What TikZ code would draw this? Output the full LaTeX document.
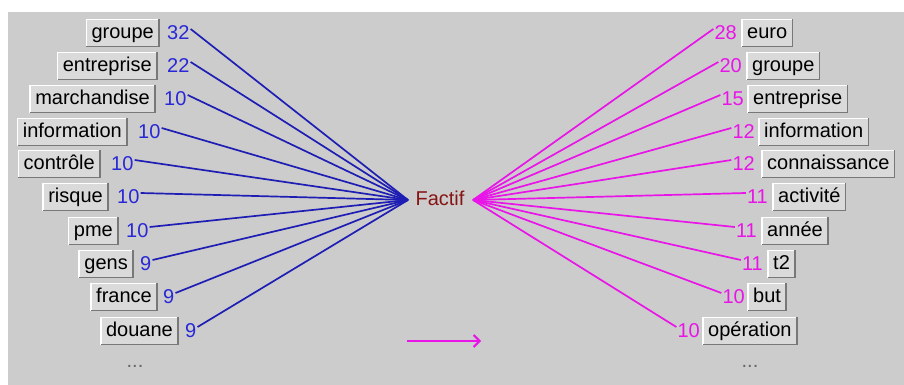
\documentclass[tikz,border=0pt]{standalone}
\usepackage{fontspec}
\setmainfont{Liberation Sans}
\usetikzlibrary{calc,arrows.meta}
\definecolor{bg}{RGB}{204,204,204}
\definecolor{btnface}{RGB}{218,218,218}
\definecolor{btnshadow}{RGB}{120,120,120}
\definecolor{bl}{RGB}{30,30,180}
\definecolor{blnum}{RGB}{40,40,215}
\definecolor{mg}{RGB}{232,20,232}
\definecolor{fred}{RGB}{135,20,20}
\begin{document}
\begin{tikzpicture}[x=1pt,y=-1pt,
  every node/.style={font=\fontsize{20}{24}\selectfont},
  btn/.style={fill=btnface, inner xsep=5pt, inner ysep=4pt, text height=15pt, text depth=4pt, minimum height=27pt},
  bnum/.style={text=blnum, inner sep=0pt},
  mnum/.style={text=mg, inner sep=0pt},
  bline/.style={draw=bl, line width=1.7pt},
  mline/.style={draw=mg, line width=1.7pt},
  dots/.style={text=black!60, inner sep=0pt}]
\useasboundingbox (0,0) rectangle (904,385);
\fill[white] (0,0) rectangle (904,385);
\fill[bg] (8,12) rectangle (904,385);
% convergence points
\coordinate (bt) at (408,200);
\coordinate (mt) at (473,200);
\node[text=fred, inner sep=0pt] (factif) at (440,198) {Factif};
% left side
\foreach \i/\y/\bx/\nx/\t/\n in {
  1/33/159/167/groupe/32,
  2/66/157/167/entreprise/22,
  3/99/155/164/marchandise/10,
  4/132/127/138/information/10,
  5/164/100/111/contrôle/10,
  6/197/108/117/risque/10,
  7/231/118/126/pme/10,
  8/264/133/140/gens/9,
  9/297/157/163/france/9,
  10/331/178/185/douane/9}{
  \node[btn, anchor=east] (l\i) at (\bx,\y) {\t};
  \node[bnum, anchor=west] (ln\i) at (\nx,\y) {\n};
  \draw[white, line width=1.5pt] (l\i.south west) -- (l\i.north west) -- (l\i.north east);
  \draw[btnshadow, line width=1.5pt] (l\i.south west) -- (l\i.south east) -- (l\i.north east);
  \draw[bline] ($(ln\i.east)+(1,-4)$) -- (bt);
}
% right side
\foreach \i/\y/\nx/\bx/\n/\t in {
  1/33/737/742/28/euro,
  2/66/742/747/20/groupe,
  3/99/744/748/15/entreprise,
  4/132/755/759/12/information,
  5/164/755/762/12/connaissance,
  6/197/768/773/11/activité,
  7/231/757/762/11/année,
  8/264/763/768/11/t2,
  9/297/745/748/10/but,
  10/331/700/703/10/opération}{
  \node[btn, anchor=west] (r\i) at (\bx,\y) {\t};
  \node[mnum, anchor=east] (rn\i) at (\nx,\y) {\n};
  \draw[white, line width=1.5pt] (r\i.south west) -- (r\i.north west) -- (r\i.north east);
  \draw[btnshadow, line width=1.5pt] (r\i.south west) -- (r\i.south east) -- (r\i.north east);
  \draw[mline] (mt) -- ($(rn\i.west)+(-1,-4)$);
}
\node[dots] (ldots) at (135,366) {...};
\node[dots] (rdots) at (750,366) {...};
% legend arrow
\coordinate (a1) at (407,341);
\coordinate (a2) at (481,341);
\draw[mg, line width=2pt, -{Straight Barb[length=6pt,width=12pt]}] (a1) -- (a2);
\end{tikzpicture}
\end{document}
